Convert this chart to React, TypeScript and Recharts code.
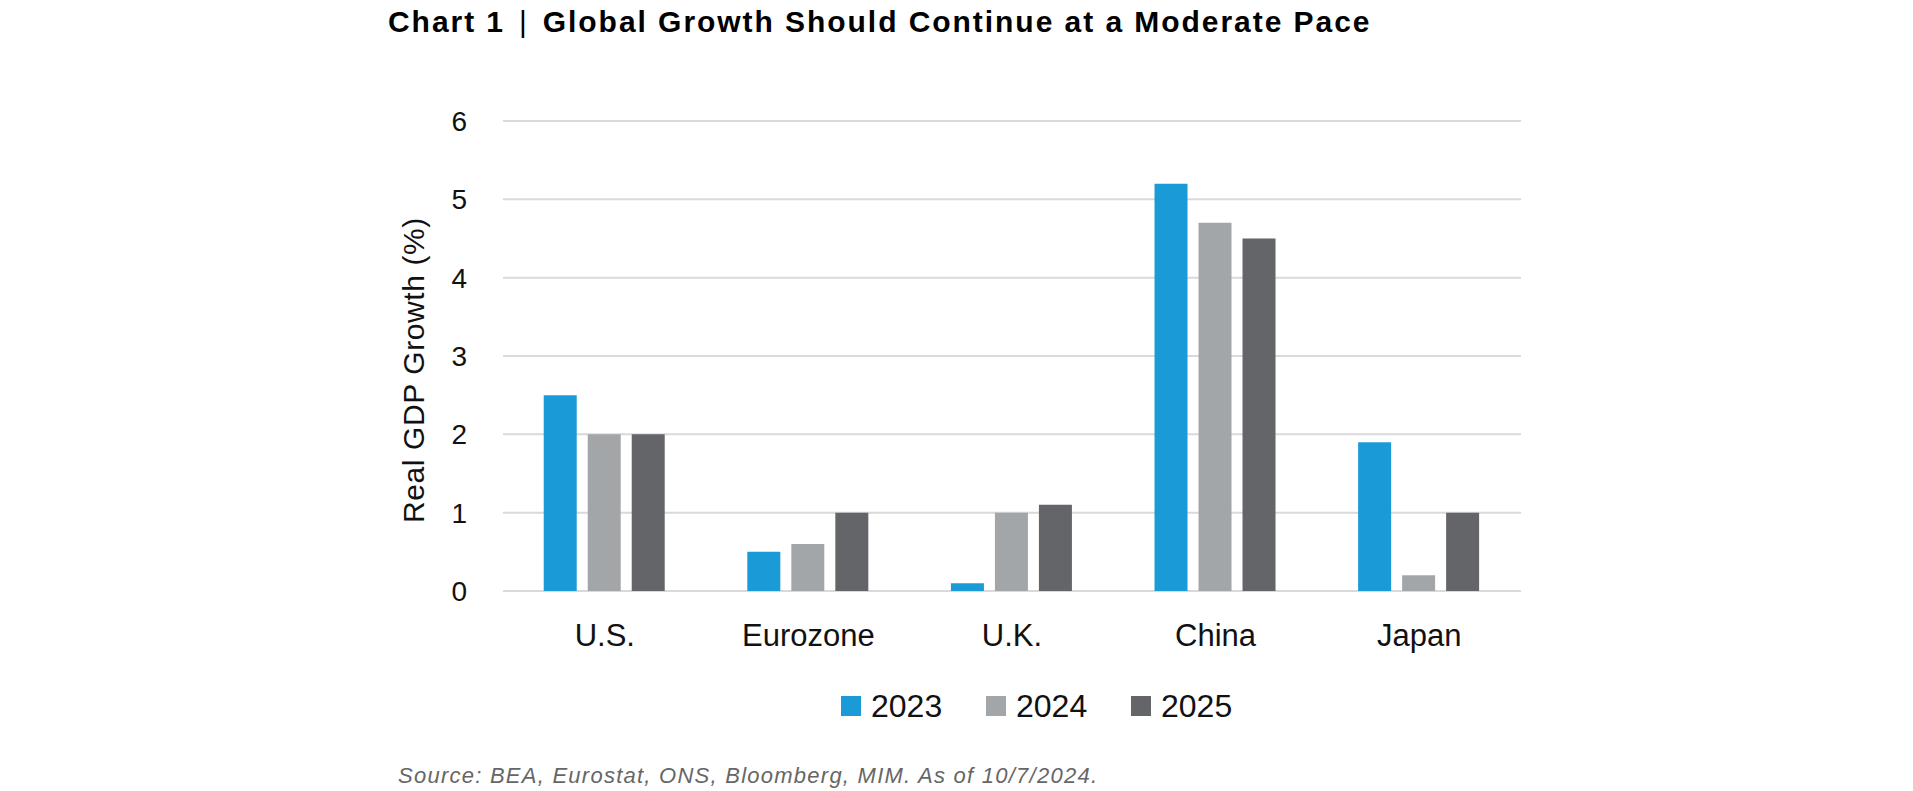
import React from "react"
import { Bar, BarChart, XAxis, YAxis, CartesianGrid, Legend, Label } from "recharts"

const regions = ["U.S.", "Eurozone", "U.K.", "China", "Japan"]
const growth2023 = [2.5, 0.5, 0.1, 5.2, 1.9]
const growth2024 = [2.0, 0.6, 1.0, 4.7, 0.2]
const growth2025 = [2.0, 1.0, 1.1, 4.5, 1.0]
const yTicks = [0, 1, 2, 3, 4, 5, 6]

const series = [
  { key: "2023", values: growth2023, color: "#1A9BD7" },
  { key: "2024", values: growth2024, color: "#A3A6A9" },
  { key: "2025", values: growth2025, color: "#636569" },
]

const data = regions.map((region, i) => {
  const row: Record<string, string | number> = { region }
  series.forEach((s) => {
    row[s.key] = s.values[i]
  })
  return row
})

const font = "'Liberation Sans', Arial, sans-serif"

function LegendContent() {
  return (
    <div style={{ display: "flex", fontFamily: font, fontSize: 32, color: "#111" }}>
      {series.map((s) => (
        <div key={s.key} style={{ display: "flex", alignItems: "center", width: 145 }}>
          <span style={{ width: 20, height: 20, background: s.color, marginRight: 10, display: "inline-block" }} />
          <span style={{ lineHeight: "32px" }}>{s.key}</span>
        </div>
      ))}
    </div>
  )
}

function YLabel(props: any) {
  const vb = props.viewBox || { x: 0, y: 0, width: 0, height: 0 }
  const x = vb.x + 10
  const y = vb.y + vb.height / 2 + 14
  return (
    <text
      x={x}
      y={y}
      transform={`rotate(-90 ${x} ${y})`}
      textAnchor="middle"
      dominantBaseline="central"
      fontFamily={font}
      fontSize={30}
      letterSpacing={0.6}
      fill="#111"
    >
      Real GDP Growth (%)
    </text>
  )
}

export default function App() {
  return (
    <div style={{ position: "absolute", left: 0, top: 0, width: 1913, height: 791, background: "#fff" }}>
      <div
        style={{
          position: "absolute",
          left: 388,
          top: 7,
          fontFamily: font,
          fontWeight: 700,
          fontSize: 30,
          lineHeight: "30px",
          letterSpacing: 1.95,
          color: "#000",
          whiteSpace: "nowrap",
        }}
      >
        Chart 1<span style={{ fontWeight: 400, margin: "0 14px" }}>|</span>Global Growth Should Continue at a Moderate Pace
      </div>

      <div style={{ position: "absolute", left: 0, top: 0 }}>
        <BarChart
          width={1913}
          height={791}
          data={data}
          margin={{ top: 121, right: 392, left: 403, bottom: 140 }}
          barCategoryGap="20%"
          barGap={11}
        >
          <CartesianGrid vertical={false} stroke="#d9d9d9" strokeWidth={2} />
          <XAxis
            dataKey="region"
            axisLine={false}
            tickLine={false}
            tickSize={0}
            tickMargin={33}
            height={60}
            interval={0}
            tick={{ fill: "#111", fontSize: 31, fontFamily: font }}
          />
          <YAxis
            domain={[0, 6]}
            ticks={yTicks}
            axisLine={false}
            tickLine={false}
            tickSize={0}
            tickMargin={36}
            width={100}
            tick={{ fill: "#111", fontSize: 28, fontFamily: font }}
          >
            <Label content={<YLabel />} />
          </YAxis>
          <Legend
            layout="horizontal"
            verticalAlign="middle"
            align="center"
            content={<LegendContent />}
            wrapperStyle={{ position: "absolute", left: 841, top: 690, width: "auto" }}
          />
          {series.map((s) => (
            <Bar key={s.key} dataKey={s.key} fill={s.color} isAnimationActive={false} />
          ))}
        </BarChart>
      </div>

      <div
        style={{
          position: "absolute",
          left: 398,
          top: 765,
          fontFamily: font,
          fontStyle: "italic",
          fontSize: 22,
          lineHeight: "22px",
          letterSpacing: 1.25,
          color: "#666",
          whiteSpace: "nowrap",
        }}
      >
        Source: BEA, Eurostat, ONS, Bloomberg, MIM. As of 10/7/2024.
      </div>
    </div>
  )
}
